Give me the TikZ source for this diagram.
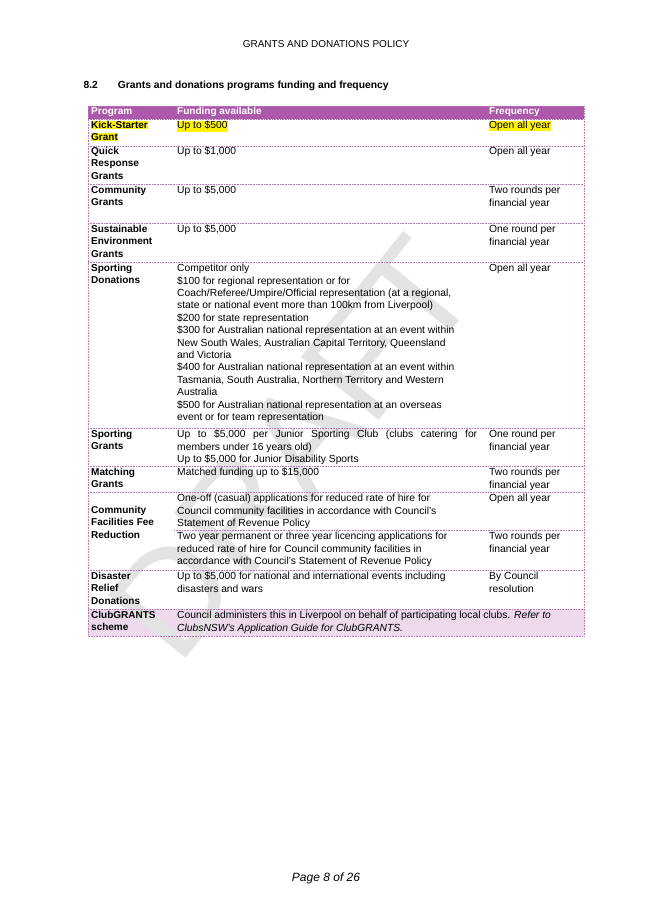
\documentclass[tikz,border=0pt]{standalone}
\usepackage{fontspec}
\setmainfont{Liberation Sans}
\begin{document}
\begin{tikzpicture}[x=1pt,y=-1pt,
  cell/.style={anchor=north west,align=left,inner sep=0pt,font=\fontsize{10.3}{12.4}\selectfont},
  prog/.style={cell,font=\fontsize{10}{12.4}\selectfont\bfseries},
  hl/.style={anchor=north west,inner sep=0.6pt,fill=yellow,font=\fontsize{10.3}{12.4}\selectfont},
  grid/.style={draw=violet!55,densely dotted,line width=0.6pt}]
\useasboundingbox (0,0) rectangle (653,923);
\fill[white] (0,0) rectangle (653,923);
% header
\node[font=\fontsize{10}{12}\selectfont] (title) at (326,44) {GRANTS AND DONATIONS POLICY};
\node[anchor=west,font=\fontsize{10.3}{12}\selectfont\bfseries] (sec) at (80,86) {8.2\hspace{20pt}Grants and donations programs funding and frequency};
% table fills
\fill[violet!65] (88,106) rectangle (584,119);
\fill[violet!15] (88,609) rectangle (584,636);
% watermark
\node[rotate=51,text=gray!22,font=\fontsize{145}{145}\selectfont] (wm) at (292,448) {DRAFT};
% grid
\draw[grid] (88,106) rectangle (584,636);
\foreach \y in {119,146,184,223,262,428,466,492,570,609}{\draw[grid] (88,\y) -- (584,\y);}
\draw[grid] (174,530) -- (584,530);
% header text
\node[prog,text=white] (h1) at (91,107) {Program};
\node[prog,text=white] (h2) at (177,107) {Funding available};
\node[prog,text=white] (h3) at (489,107) {Frequency};
% Kick-starter
\node[hl,font=\fontsize{10}{12.4}\selectfont\bfseries] (k1) at (90.4,120.4) {Kick-Starter};
\node[hl,font=\fontsize{10}{12.4}\selectfont\bfseries] (k2) at (90.4,132.8) {Grant};
\node[hl] (k3) at (176.4,120.4) {Up to \$500};
\node[hl] (k4) at (488.4,120.4) {Open all year};
% rows
\node[prog] (q1) at (91,147) {Quick\\Response\\Grants};
\node[cell] (q2) at (177,147) {Up to \$1,000};
\node[cell] (q3) at (489,147) {Open all year};
\node[prog] (c1) at (91,186) {Community\\Grants};
\node[cell] (c2) at (177,186) {Up to \$5,000};
\node[cell] (c3) at (489,186) {Two rounds per\\financial year};
\node[prog] (s1) at (91,225) {Sustainable\\Environment\\Grants};
\node[cell] (s2) at (177,225) {Up to \$5,000};
\node[cell] (s3) at (489,225) {One round per\\financial year};
\node[prog] (d1) at (91,264) {Sporting\\Donations};
\node[cell] (d2) at (177,264) {Competitor only\\
\$100 for regional representation or for\\
Coach/Referee/Umpire/Official representation (at a regional,\\
state or national event more than 100km from Liverpool)\\
\$200 for state representation\\
\$300 for Australian national representation at an event within\\
New South Wales, Australian Capital Territory, Queensland\\
and Victoria\\
\$400 for Australian national representation at an event within\\
Tasmania, South Australia, Northern Territory and Western\\
Australia\\
\$500 for Australian national representation at an overseas\\
event or for team representation};
\node[cell] (d3) at (489,264) {Open all year};
\node[prog] (g1) at (91,430) {Sporting\\Grants};
\node[cell] (g2a) at (177,430) {\makebox[300pt][s]{Up to \$5,000 per Junior Sporting Club (clubs catering for}};
\node[cell] (g2) at (177,442.4) {members under 16 years old)\\Up to \$5,000 for Junior Disability Sports};
\node[cell] (g3) at (489,430) {One round per\\financial year};
\node[prog] (m1) at (91,468) {Matching\\Grants};
\node[cell] (m2) at (177,468) {Matched funding up to \$15,000};
\node[cell] (m3) at (489,468) {Two rounds per\\financial year};
\node[prog] (f1) at (91,506) {Community\\Facilities Fee\\Reduction};
\node[cell] (f2) at (177,494) {One-off (casual) applications for reduced rate of hire for\\Council community facilities in accordance with Council's\\Statement of Revenue Policy};
\node[cell] (f3) at (489,494) {Open all year};
\node[cell] (f4) at (177,532) {Two year permanent or three year licencing applications for\\reduced rate of hire for Council community facilities in\\accordance with Council's Statement of Revenue Policy};
\node[cell] (f5) at (489,532) {Two rounds per\\financial year};
\node[prog] (r1) at (91,572) {Disaster\\Relief\\Donations};
\node[cell] (r2) at (177,572) {Up to \$5,000 for national and international events including\\disasters and wars};
\node[cell] (r3) at (489,572) {By Council\\resolution};
\node[prog] (b1) at (91,611) {ClubGRANTS\\scheme};
\node[cell,font=\fontsize{10.3}{12.4}\selectfont] (b2) at (177,611) {Council administers this in Liverpool on behalf of participating local clubs. \textit{Refer to}\\\textit{ClubsNSW's Application Guide for ClubGRANTS.}};
% footer
\node[font=\fontsize{12}{14}\selectfont\itshape] (foot) at (326,878) {Page 8 of 26};
\end{tikzpicture}
\end{document}
